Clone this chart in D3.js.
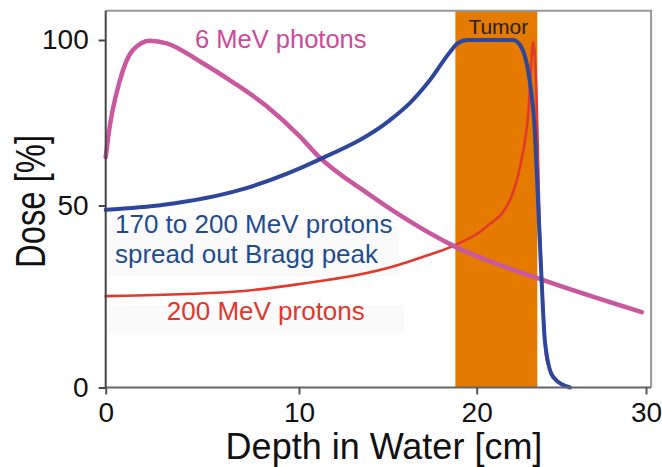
<!DOCTYPE html>
<html>
<head>
<meta charset="utf-8">
<script src="https://cdn.jsdelivr.net/npm/d3@7"></script>
<style>
  html, body { margin: 0; padding: 0; background: #fff; }
  svg { display: block; font-family: "Liberation Sans", Arial, sans-serif; }
</style>
</head>
<body>
<svg id="chart" width="662" height="467"></svg>
<script>
// ---------------- data ----------------
const xTicks = [0, 10, 20, 30];
const yTicks = [0, 50, 100];

// 6 MeV photons
const depthPhoton = [0, 0.13, 0.74, 1.41, 2.29, 3.16, 4.88, 6.59, 8.33, 10.06, 11.07, 13.82, 15.5, 18.78, 23.56, 29.75];
const dosePhoton  = [64.6, 70.8, 87.9, 97.0, 99.8, 99.0, 93.5, 87.2, 80.0, 70.8, 65.0, 53.8, 47.9, 38.7, 30.1, 20.7];

// 170 to 200 MeV protons, spread out Bragg peak
const depthSOBP = [0, 3, 6.95, 11.07, 15.12, 16.25, 17.37, 18.5, 18.95, 19.5, 22.14, 22.56, 23.15, 23.44, 23.62, 23.84, 24.04, 24.51, 25.52];
const doseSOBP  = [48.8, 50.2, 54.7, 63.7, 75.8, 81.0, 87.9, 96.4, 99.1, 100, 100, 98.5, 87.0, 71.9, 51.7, 28.7, 12.2, 2.9, 0];

// 200 MeV protons
const depthBragg = [0, 6.59, 10, 15.63, 16.8, 18.78, 20.59, 21.97, 22.56, 23.05, 23.34, 23.54, 23.68, 23.9, 24.13, 24.92, 25.5];
const doseBragg  = [25.1, 26.3, 28.4, 33.7, 35.6, 39.1, 44.2, 51.7, 61.8, 78, 99.4, 82, 51.7, 24, 7.6, 1.2, 0];

// tumor region (cm)
const tumorStart = 18.8, tumorEnd = 23.58;

// ---------------- layout ----------------
const svg = d3.select("#chart");
const xDomainMax = 30.3, yDomainMax = 108.8;

// axis of the original figure is slightly non-uniform -> piecewise linear scales
const x = d3.scaleLinear().domain([0, 10, 20, 30]).range([105.7, 299, 476.7, 646]);
const y = d3.scaleLinear().domain([0, 50, 100]).range([387.5, 205.5, 40]);

const font = '"Liberation Sans", Arial, sans-serif';

// tumor band
svg.append("rect")
  .attr("x", x(tumorStart)).attr("y", y(yDomainMax))
  .attr("width", x(tumorEnd) - x(tumorStart))
  .attr("height", y(0) - y(yDomainMax))
  .attr("fill", "#E57A00");

svg.append("text")
  .attr("x", (x(tumorStart) + x(tumorEnd)) / 2 + 2)
  .attr("y", y(yDomainMax) + 23)
  .attr("text-anchor", "middle")
  .attr("font-size", 21).attr("fill", "#222")
  .text("Tumor");

// frame (top and right)
svg.append("path")
  .attr("d", `M${x(0)},${y(yDomainMax)} H${x(xDomainMax)} V${y(0)}`)
  .attr("fill", "none").attr("stroke", "#999").attr("stroke-width", 2);

// label background boxes (very faint, as in the original)
function bgBox(x0, y0, x1, y1) {
  svg.append("rect").attr("x", x0).attr("y", y0).attr("width", x1 - x0).attr("height", y1 - y0)
    .attr("fill", "#fafafa");
}
bgBox(x(0) + 2, y(44.5), x(15.6), y(30.5));
bgBox(x(0) + 2, y(22.5), x(15.9), y(15));

// curves
const line = d3.line().curve(d3.curveMonotoneX).x(d => x(d[0])).y(d => y(d[1]));
const series = [
  { depth: depthBragg, dose: doseBragg, color: "#E3392C", width: 2.6 },
  { depth: depthPhoton, dose: dosePhoton, color: "#C8589F", width: 4.5 },
  { depth: depthSOBP, dose: doseSOBP, color: "#2D479C", width: 4 }
];
series.forEach(s => {
  svg.append("path")
    .datum(d3.zip(s.depth, s.dose))
    .attr("d", line)
    .attr("fill", "none")
    .attr("stroke", s.color)
    .attr("stroke-width", s.width)
    .attr("stroke-linejoin", "round")
    .attr("stroke-linecap", "round");
});

// axes
const xAxis = svg.append("g").attr("transform", `translate(0,${y(0)})`)
  .call(d3.axisBottom(x).tickValues(xTicks).tickSize(7).tickPadding(8));
xAxis.select(".domain").attr("d", `M${x(0)},0H${x(xDomainMax)}`).attr("stroke", "#666").attr("stroke-width", 2);
xAxis.selectAll(".tick line").attr("stroke", "#555").attr("stroke-width", 2);
xAxis.selectAll(".tick text").attr("font-size", 28).attr("font-family", font).attr("fill", "#111");

const yAxis = svg.append("g").attr("transform", `translate(${x(0)},0)`)
  .call(d3.axisLeft(y).tickValues(yTicks).tickSize(7).tickPadding(10));
yAxis.select(".domain").attr("d", `M0,${y(0)}V${y(yDomainMax)}`).attr("stroke", "#444").attr("stroke-width", 2);
yAxis.selectAll(".tick line").attr("stroke", "#444").attr("stroke-width", 2);
yAxis.selectAll(".tick text").attr("font-size", 28).attr("font-family", font).attr("fill", "#111");

// axis titles
svg.append("text")
  .attr("x", 384).attr("y", 459)
  .attr("text-anchor", "middle")
  .attr("font-size", 36).attr("fill", "#111")
  .text("Depth in Water [cm]");

svg.append("text")
  .attr("transform", `translate(45,${y(50) - 4}) rotate(-90)`)
  .attr("text-anchor", "middle")
  .attr("font-size", 42).attr("fill", "#111")
  .attr("textLength", 133).attr("lengthAdjust", "spacingAndGlyphs")
  .text("Dose [%]");

// series labels
svg.append("text")
  .attr("x", x(4.62)).attr("y", y(97.5))
  .attr("font-size", 25.5).attr("fill", "#CC4A9C")
  .text("6 MeV photons");

svg.append("text")
  .attr("x", x(0.48)).attr("y", y(42.4))
  .attr("font-size", 26).attr("fill", "#1E4D8F")
  .text("170 to 200 MeV protons");
svg.append("text")
  .attr("x", x(0.48)).attr("y", y(34.1))
  .attr("font-size", 26).attr("fill", "#1E4D8F")
  .text("spread out Bragg peak");

svg.append("text")
  .attr("x", x(3.16)).attr("y", y(18.5))
  .attr("font-size", 26).attr("fill", "#E0372C")
  .text("200 MeV protons");
</script>
</body>
</html>
